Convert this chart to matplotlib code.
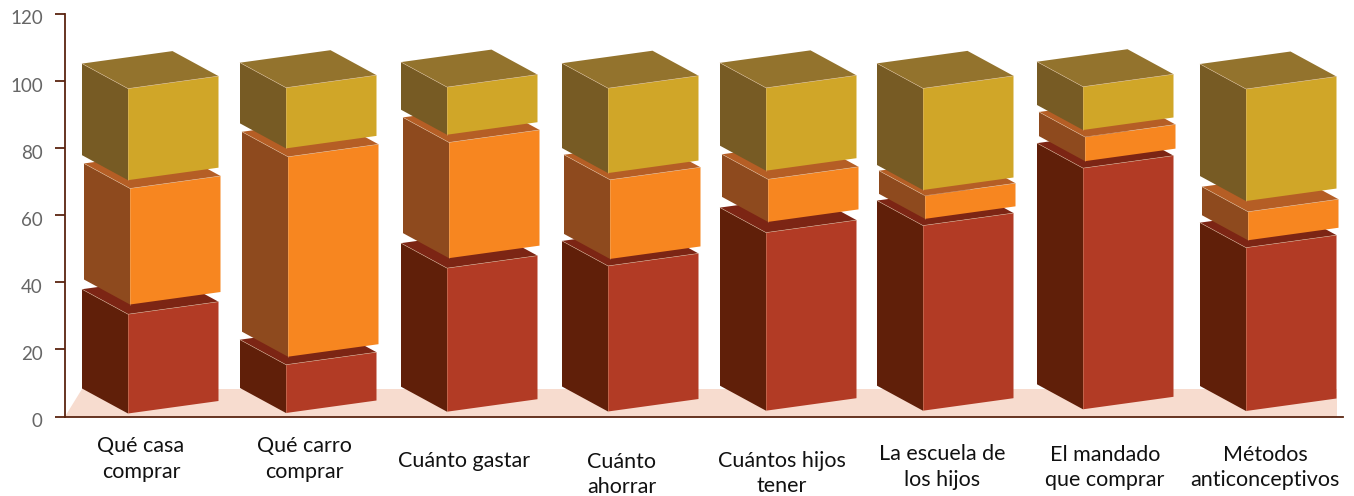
import matplotlib
matplotlib.use('Agg')
import matplotlib.pyplot as plt
from matplotlib.transforms import ScaledTranslation

categories = ["Qué casa\ncomprar", "Qué carro\ncomprar", "Cuánto gastar", "Cuánto\nahorrar",
              "Cuántos hijos\ntener", "La escuela de\nlos hijos", "El mandado\nque comprar",
              "Métodos\nanticonceptivos"]
red_vals = [29.6, 14.4, 42.8, 43.4, 53.1, 55.2, 71.9, 48.7]
orange_vals = [34.6, 59.6, 34.5, 23.6, 12.7, 6.9, 7.2, 8.5]
gold_vals = [27.3, 18.1, 14.2, 25.3, 24.7, 30.3, 12.9, 33.4]
yticks = [0, 20, 40, 60, 80, 100, 120]

# layout, in pixels of the image (x axis runs in pixels)
W, H = 1354, 496
Y0, Y120 = 416.5, 14
unit = (Y0 - Y120) / 120.0
front_x = [128, 286, 447, 608, 766, 923, 1083, 1246]
base_px = [413.5, 413, 411.7, 411.5, 410.7, 410.7, 409.3, 411]
gap_low = [9.7, 8, 10, 7, 10.7, 6.7, 7, 7.4]  # red to orange
gap_high = [8.3, 8.4, 7.7, 6.7, 8.6, 5.7, 7, 10.7]  # orange to gold
label_x = [141, 304, 464, 622, 782, 942, 1105, 1265]
label_y = [459, 459, 461, 474.5, 473.5, 467, 467.5, 467.5]
bar_w, rise = 90.5, 12.5 / unit
depth_x, depth_y = 46, 25 / unit

styles = {
    'red': ('#b23b25', '#601f09', '#7c2514', 0),
    'orange': ('#f78620', '#8e4a1e', '#b55e25', 2),
    'gold': ('#d0a628', '#775b24', '#93732d', 0),
}
brown = '#5a2410'


def block(ax, x, y0, h, name):
    front, side, top, dx = styles[name]
    x = x + dx
    y1 = y0 + h
    ax.fill([x, x - depth_x, x - depth_x, x], [y0, y0 + depth_y, y1 + depth_y, y1], color=side, lw=0, zorder=3)
    ax.fill([x, x + bar_w, x + bar_w, x], [y0, y0 + rise, y1 + rise, y1], color=front, lw=0, zorder=3)
    ax.fill([x, x + bar_w, x + bar_w - depth_x, x - depth_x], [y1, y1 + rise, y1 + rise + depth_y, y1 + depth_y],
            color=top, lw=0, zorder=3)
    # thin light edges
    ax.plot([x - depth_x, x, x + bar_w], [y1 + depth_y, y1, y1 + rise], color='#e8c9a8', lw=0.4, alpha=0.7, zorder=3)
    ax.plot([x, x], [y0, y1], color='#e8c9a8', lw=0.4, alpha=0.5, zorder=3)


plt.rcParams['font.family'] = ['Lato', 'DejaVu Sans']
fig = plt.figure(figsize=(W / 100, H / 100), dpi=100)
ax = fig.add_axes([65 / W, 1 - Y0 / H, (1343 - 65) / W, (Y0 - Y120) / H])
ax.set_xlim(65, 1343)
ax.set_ylim(0, 120)

# floor
floor_top = (Y0 - 389) / unit
ax.fill([65, 82, 1337, 1337], [0, floor_top, floor_top, 0], color='#f7dccf', lw=0, zorder=1)

for i in range(len(categories)):
    y = (Y0 - base_px[i]) / unit
    block(ax, front_x[i], y, red_vals[i], 'red')
    y = y + red_vals[i] + gap_low[i] / unit
    block(ax, front_x[i], y, orange_vals[i], 'orange')
    y = y + orange_vals[i] + gap_high[i] / unit
    block(ax, front_x[i], y, gold_vals[i], 'gold')
    ax.text(label_x[i], (Y0 - label_y[i]) / unit, categories[i], ha='center', va='center', fontsize=15.5,
            color='#111111', linespacing=1.35, clip_on=False)

for s in ['top', 'right']:
    ax.spines[s].set_visible(False)
for s in ['left', 'bottom']:
    ax.spines[s].set_color(brown)
    ax.spines[s].set_linewidth(1.3)
    ax.spines[s].set_zorder(4)
ax.set_xticks([])
ax.set_yticks(yticks)
ax.tick_params(axis='y', length=7, width=1.3, color=brown, labelcolor='#666666', labelsize=13.5, pad=9)
# tick labels sit a little under their ticks
shift = ScaledTranslation(0, -3.5 / 100, fig.dpi_scale_trans)
for t in ax.get_yticklabels():
    t.set_transform(t.get_transform() + shift)

fig.savefig('out.png', dpi=100)
